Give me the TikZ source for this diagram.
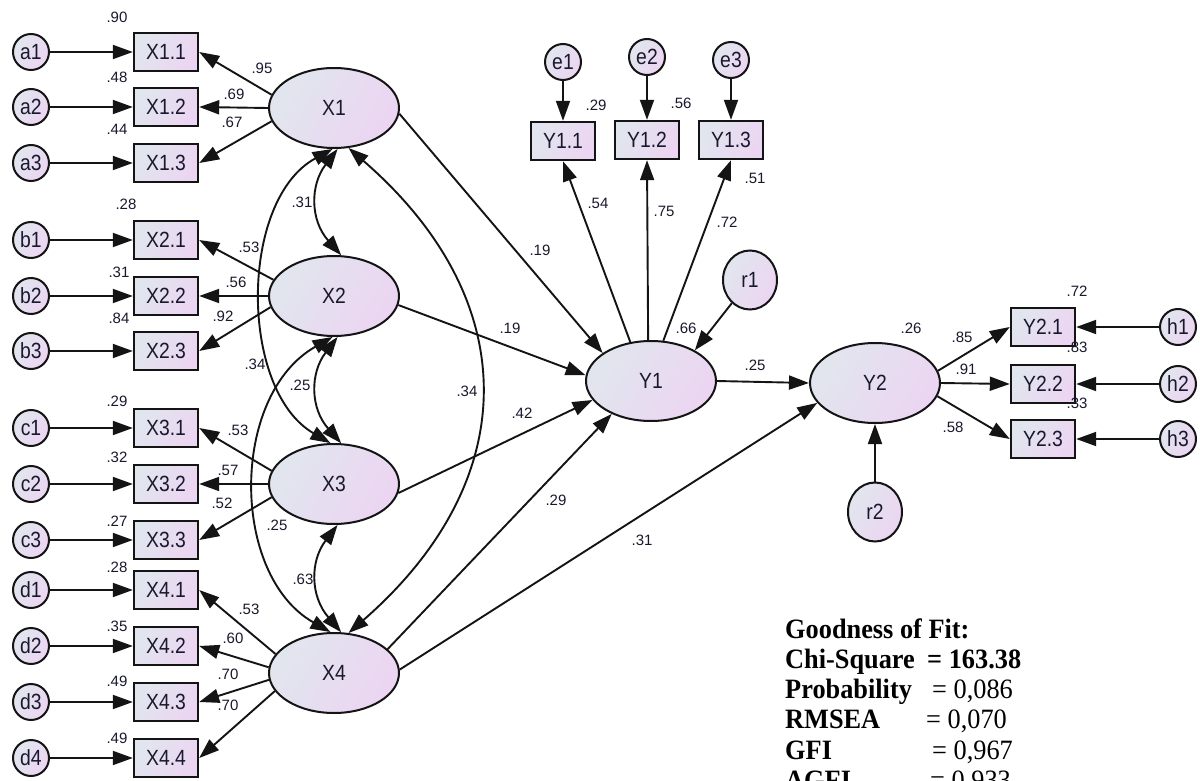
\documentclass[tikz,border=0pt]{standalone}
\usepackage{fontspec}
\usepackage{graphicx}
\setmainfont{Liberation Sans}
\newfontfamily\tnr{Liberation Serif}
\usetikzlibrary{shapes.geometric,arrows.meta}
\definecolor{gA}{RGB}{225,230,238}
\definecolor{gB}{RGB}{236,213,242}
\definecolor{ink}{RGB}{25,25,45}
\definecolor{edge}{RGB}{20,20,20}
\newcommand{\mainf}{\fontsize{22}{22}\selectfont}
\newcommand{\numf}{\fontsize{15}{15}\selectfont}
\newcommand{\gfont}{\fontsize{28}{28}\selectfont}
\newcommand{\sqz}[1]{\scalebox{0.88}[1]{#1}}
\newcommand{\gsq}[1]{\scalebox{0.94}[1]{#1}}
\begin{document}
\begin{tikzpicture}[x=1pt,y=-1pt,
  shd/.style={top color=gA, bottom color=gB, shading angle=60},
  obs/.style={shd, draw=edge, line width=2.4pt, rectangle, minimum width=64pt, minimum height=38pt, inner sep=0pt, font=\mainf, text=ink},
  errc/.style={shd, draw=edge, line width=2pt, circle, minimum size=36pt, inner sep=0pt, font=\mainf, text=ink},
  latv/.style={shd, draw=edge, line width=2pt, ellipse, minimum width=130pt, minimum height=80pt, inner sep=0pt, font=\mainf, text=ink},
  resd/.style={shd, draw=edge, line width=2pt, ellipse, minimum width=54pt, minimum height=59pt, inner sep=0pt, font=\mainf, text=ink},
  arr/.style={draw=edge, line width=1.9pt, -{Triangle[length=20pt,width=14pt]}},
  cov/.style={draw=edge, line width=1.9pt, {Triangle[length=20pt,width=14pt]}-{Triangle[length=20pt,width=14pt]}},
  num/.style={font=\numf, text=ink, inner sep=0pt},
  gofb/.style={font=\tnr\bfseries\gfont, text=black, inner sep=0pt, anchor=base west},
  gofr/.style={font=\tnr\gfont, text=black, inner sep=0pt, anchor=base west}
]
\path[use as bounding box, clip] (0,0) rectangle (1200,781);
\fill[white] (0,0) rectangle (1200,781);

% ---------- observed indicators of X1..X4 ----------
\foreach \nm/\lab/\yy in {a1/X1.1/52, a2/X1.2/107, a3/X1.3/163,
                          b1/X2.1/240, b2/X2.2/296, b3/X2.3/351,
                          c1/X3.1/428, c2/X3.2/484, c3/X3.3/540,
                          d1/X4.1/590, d2/X4.2/646, d3/X4.3/702, d4/X4.4/758}{
  \node[errc] (\nm) at (31,\yy) {\sqz{\nm}};
  \node[obs] (o\nm) at (166,\yy) {\sqz{\lab}};
  \draw[arr] (\nm) -- (o\nm);
}

% ---------- latent exogenous ----------
\node[latv] (X1) at (334,108) {\sqz{X1}};
\node[latv] (X2) at (334,296) {\sqz{X2}};
\node[latv] (X3) at (334,484) {\sqz{X3}};
\node[latv] (X4) at (334,673) {\sqz{X4}};

% loadings
\draw[arr] (X1.168) -- (oa1.east);
\draw[arr] (X1.180) -- (oa2.east);
\draw[arr] (X1.192) -- (oa3.east);
\draw[arr] (X2.165) -- (ob1.east);
\draw[arr] (X2.180) -- (ob2.east);
\draw[arr] (X2.190) -- (ob3.east);
\draw[arr] (X3.168) -- (oc1.east);
\draw[arr] (X3.180) -- (oc2.east);
\draw[arr] (X3.192) -- (oc3.east);
\draw[arr] (X4.162) -- (od1.east);
\draw[arr] (X4.175) -- (od2.east);
\draw[arr] (X4.186) -- (od3.east);
\draw[arr] (X4.197) -- (od4.east);

% ---------- covariances ----------
\draw[cov] (X1.275) .. controls (310,185) and (310,220) .. (X2.80);
\draw[cov] (X2.275) .. controls (310,373) and (310,408) .. (X3.80);
\draw[cov] (X3.275) .. controls (310,561) and (310,596) .. (X4.80);
\draw[cov] (X1.268) .. controls (239,200) and (239,390) .. (X3.95);
\draw[cov] (X2.268) .. controls (230,395) and (230,575) .. (X4.95);
\draw[cov] (X1.290) .. controls (524,300) and (524,480) .. (X4.70);

% ---------- Y1 block ----------
\node[latv] (Y1) at (651,381) {\sqz{Y1}};
\node[obs] (y11) at (563,141) {\sqz{Y1.1}};
\node[obs] (y12) at (647,140) {\sqz{Y1.2}};
\node[obs] (y13) at (731,140) {\sqz{Y1.3}};
\node[errc] (e1) at (563,62) {\sqz{e1}};
\node[errc] (e2) at (647,57) {\sqz{e2}};
\node[errc] (e3) at (731,60) {\sqz{e3}};
\node[resd] (r1) at (750,280) {\sqz{r1}};
\draw[arr] (e1) -- (y11);
\draw[arr] (e2) -- (y12);
\draw[arr] (e3) -- (y13);
\draw[arr] (Y1.118) -- (y11.south);
\draw[arr] (Y1.94) -- (y12.south);
\draw[arr] (Y1.73) -- (y13.south);
\draw[arr] (r1) -- (Y1.35);

% ---------- Y2 block ----------
\node[latv] (Y2) at (875,383) {\sqz{Y2}};
\node[resd] (r2) at (875,512) {\sqz{r2}};
\node[obs] (y21) at (1043,327) {\sqz{Y2.1}};
\node[obs] (y22) at (1043,384) {\sqz{Y2.2}};
\node[obs] (y23) at (1043,439) {\sqz{Y2.3}};
\node[errc] (h1) at (1178,327) {\sqz{h1}};
\node[errc] (h2) at (1178,384) {\sqz{h2}};
\node[errc] (h3) at (1178,439) {\sqz{h3}};
\draw[arr] (h1) -- (y21);
\draw[arr] (h2) -- (y22);
\draw[arr] (h3) -- (y23);
\draw[arr] (Y2.11) -- (y21.west);
\draw[arr] (Y2.east) -- (y22.west);
\draw[arr] (Y2.348) -- (y23.west);
\draw[arr] (r2) -- (Y2);

% ---------- structural paths ----------
\draw[arr] (X1.355) -- (Y1.150);
\draw[arr] (X2.352) -- (Y1.175);
\draw[arr] (X3.352) -- (Y1.198);
\draw[arr] (X4.24) -- (Y1.220);
\draw[arr] (X4.3) -- (Y2.199);
\draw[arr] (Y1.east) -- (Y2.west);

% ---------- numeric labels ----------
\foreach \x/\y/\t [count=\i] in {
  117/17/.90, 117/77/.48, 117/129/.44,
  126/204/.28, 119/272/.31, 119/318/.84,
  117/401/.29, 117/457/.32, 117/521/.27,
  117/567/.28, 117/626/.35, 117/681/.49, 117/738/.49,
  262/68/.95, 234/94/.69, 232/122/.67,
  249/247/.53, 236/282/.56, 223/316/.92,
  238/430/.53, 228/470/.57, 222/503/.52,
  249/609/.53, 233/638/.60, 228/674/.70, 228/705/.70,
  302/202/.31, 255/364/.34, 300/385/.25, 277/525/.25, 303/579/.63, 467/391/.34,
  596/105/.29, 681/103/.56, 755/178/.51,
  598/203/.54, 664/211/.75, 727/222/.72, 686/328/.66,
  540/250/.19, 510/328/.19, 522/413/.42, 556/500/.29, 642/540/.31,
  755/365/.25, 911/328/.26, 962/337/.85, 966/369/.91, 953/427/.58,
  1077/291/.72, 1077/347/.83, 1077/403/.33}{
  \node[num] (n\i) at (\x,\y) {\t};
}

% ---------- goodness of fit ----------
\node[gofb] (g1) at (785,638) {\gsq{Goodness of Fit:}};
\node[gofb] (g2) at (785,668) {\gsq{Chi-Square}};
\node[gofb] (g2v) at (927,668) {\gsq{= 163.38}};
\node[gofb] (g3) at (785,698) {\gsq{Probability}};
\node[gofr] (g3v) at (932,698) {\gsq{= 0,086}};
\node[gofb] (g4) at (785,728) {\gsq{RMSEA}};
\node[gofr] (g4v) at (926,728) {\gsq{= 0,070}};
\node[gofb] (g5) at (785,759) {\gsq{GFI}};
\node[gofr] (g5v) at (932,759) {\gsq{= 0,967}};
\node[gofb] (g6) at (785,789) {\gsq{AGFI}};
\node[gofr] (g6v) at (930,789) {\gsq{= 0,933}};
\end{tikzpicture}
\end{document}
